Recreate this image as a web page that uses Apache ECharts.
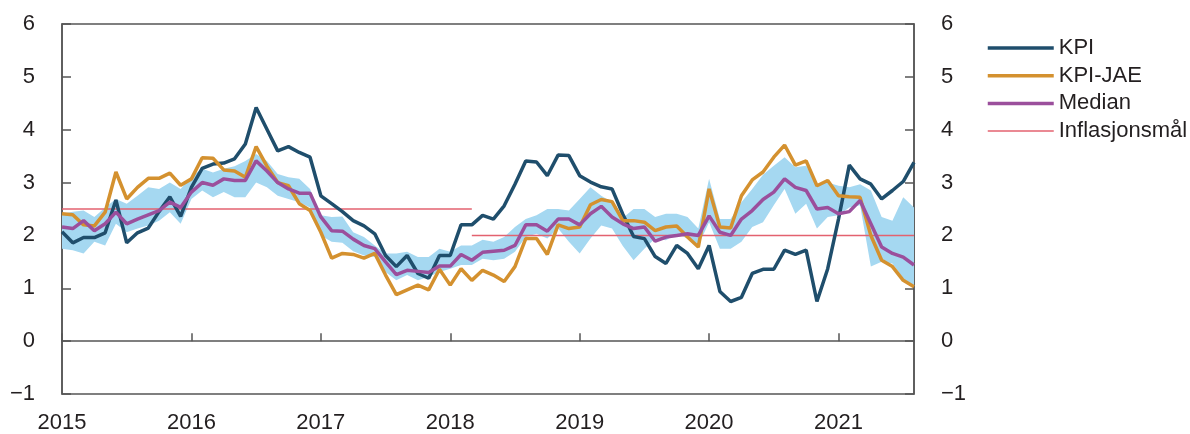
<!DOCTYPE html>
<html>
<head>
<meta charset="utf-8">
<script src="https://cdn.jsdelivr.net/npm/echarts@6/dist/echarts.min.js"></script>
<style>
  html, body { margin: 0; padding: 0; background: #fff; }
  #chart { width: 1190px; height: 434px; }
</style>
</head>
<body>
<div id="chart"></div>
<script>
// monthly, Jan 2015 - Aug 2021
const startYear = 2015
const monthCount = 80

const kpi = [
  2.07, 1.86, 1.96, 1.96, 2.05, 2.67, 1.86, 2.05, 2.14, 2.45, 2.73, 2.36,
  2.91, 3.27, 3.35, 3.37, 3.45, 3.73, 4.42, 4.01, 3.60, 3.68, 3.57, 3.48,
  2.75, 2.60, 2.45, 2.28, 2.18, 2.03, 1.62, 1.41, 1.62, 1.28, 1.19, 1.62,
  1.62, 2.20, 2.20, 2.38, 2.31, 2.56, 2.97, 3.41, 3.39, 3.13, 3.52, 3.51,
  3.13, 3.01, 2.92, 2.88, 2.40, 1.98, 1.94, 1.60, 1.47, 1.81, 1.66, 1.37,
  1.81, 0.94, 0.75, 0.83, 1.28, 1.36, 1.36, 1.72, 1.64, 1.72, 0.75, 1.37,
  2.31, 3.33, 3.07, 2.97, 2.69, 2.85, 3.02, 3.38
]

const kpiJae = [
  2.41, 2.39, 2.20, 2.18, 2.44, 3.20, 2.69, 2.91, 3.08, 3.08, 3.18, 2.95,
  3.07, 3.47, 3.46, 3.24, 3.22, 3.10, 3.68, 3.31, 3.00, 2.94, 2.60, 2.47,
  2.06, 1.57, 1.66, 1.64, 1.57, 1.66, 1.25, 0.88, 0.97, 1.06, 0.97, 1.36,
  1.06, 1.37, 1.15, 1.34, 1.25, 1.13, 1.41, 1.94, 1.94, 1.64, 2.20, 2.13,
  2.16, 2.58, 2.68, 2.64, 2.28, 2.28, 2.25, 2.09, 2.16, 2.18, 1.97, 1.78,
  2.88, 2.16, 2.14, 2.75, 3.05, 3.20, 3.48, 3.71, 3.33, 3.41, 2.94, 3.04,
  2.75, 2.73, 2.72, 2.00, 1.53, 1.41, 1.15, 1.03
]

const median = [
  2.16, 2.13, 2.28, 2.09, 2.22, 2.44, 2.22, 2.31, 2.39, 2.47, 2.63, 2.53,
  2.82, 3.00, 2.95, 3.07, 3.04, 3.04, 3.41, 3.22, 3.00, 2.88, 2.80, 2.80,
  2.35, 2.09, 2.08, 1.93, 1.81, 1.75, 1.50, 1.26, 1.34, 1.32, 1.30, 1.42,
  1.42, 1.64, 1.53, 1.68, 1.70, 1.72, 1.81, 2.20, 2.20, 2.08, 2.31, 2.31,
  2.20, 2.41, 2.55, 2.35, 2.22, 2.13, 2.16, 1.89, 1.97, 2.00, 2.03, 2.00,
  2.37, 2.06, 2.00, 2.31, 2.47, 2.68, 2.82, 3.07, 2.91, 2.85, 2.50, 2.53,
  2.41, 2.45, 2.66, 2.22, 1.78, 1.66, 1.59, 1.44
]

// range of indicators (shaded band)
const bandLow = [
  1.75, 1.72, 1.66, 1.88, 1.81, 2.22, 2.06, 2.13, 2.19, 2.28, 2.44, 2.22,
  2.69, 2.85, 2.72, 2.82, 2.72, 2.72, 3.00, 2.91, 2.75, 2.69, 2.63, 2.53,
  2.00, 1.88, 1.86, 1.70, 1.62, 1.59, 1.31, 1.15, 1.25, 1.15, 1.22, 1.31,
  1.37, 1.44, 1.44, 1.56, 1.53, 1.56, 1.69, 1.97, 2.03, 1.94, 2.13, 1.88,
  1.66, 1.94, 2.19, 2.13, 1.80, 1.53, 1.75, 1.94, 1.91, 2.03, 1.94, 1.81,
  2.25, 1.75, 1.75, 1.88, 2.16, 2.25, 2.57, 2.88, 2.41, 2.60, 2.13, 2.35,
  2.38, 2.53, 2.57, 1.41, 1.50, 1.47, 1.19, 1.03
]

const bandHigh = [
  2.41, 2.45, 2.47, 2.35, 2.53, 2.69, 2.60, 2.75, 2.91, 2.88, 3.00, 2.88,
  3.12, 3.26, 3.19, 3.26, 3.31, 3.41, 3.54, 3.41, 3.16, 3.10, 3.07, 2.88,
  2.38, 2.35, 2.36, 2.06, 1.97, 1.81, 1.66, 1.66, 1.69, 1.59, 1.59, 1.75,
  1.69, 1.81, 1.81, 1.92, 1.88, 1.97, 2.16, 2.31, 2.38, 2.50, 2.50, 2.47,
  2.69, 2.91, 2.75, 2.63, 2.33, 2.50, 2.50, 2.35, 2.41, 2.41, 2.35, 2.13,
  3.07, 2.31, 2.31, 2.63, 2.88, 3.15, 3.32, 3.48, 3.29, 3.32, 2.97, 3.00,
  2.94, 2.91, 2.97, 2.85, 2.35, 2.28, 2.72, 2.53
]

// inflation target: 2.5 until March 2018, then 2.0
const targetOld = [['2015-01', 2.5], ['2018-03', 2.5]]
const targetNew = [['2018-03', 2.0], ['2021-08', 2.0]]

const months = []
for (let i = 0; i < monthCount; i++) {
  const y = startYear + Math.floor(i / 12)
  const m = (i % 12) + 1
  months.push(y + '-' + (m < 10 ? '0' + m : m))
}

const font = 'Liberation Sans, Arial, Helvetica, sans-serif'
const textColor = '#231f20'
const axisColor = '#555555'

const colors = {
  kpi: '#1f4e6c',
  jae: '#d4912f',
  median: '#9b4f9c',
  target: '#e3626f',
  band: '#a5d8f1'
}

const yAxisBase = {
  type: 'value',
  min: -1,
  max: 6,
  interval: 1,
  axisLine: { show: true, lineStyle: { color: axisColor, width: 1.5 } },
  axisTick: { show: true, inside: true, length: 9, lineStyle: { color: axisColor, width: 1.5 } },
  axisLabel: {
    color: textColor,
    fontSize: 22,
    fontFamily: font,
    margin: 27,
    formatter: v => (v < 0 ? '\u2212' + Math.abs(v) : String(v))
  },
  splitLine: { show: false }
}

const chart = echarts.init(document.getElementById('chart'))

const legendItem = (name, color, width) => ({
  name,
  itemStyle: { opacity: 0 },
  lineStyle: { color, width }
})

const option = {
  animation: false,
  grid: {
    left: 62, right: 276, top: 24, bottom: 38,
    show: true,
    borderColor: axisColor,
    borderWidth: 1.5,
    backgroundColor: 'transparent'
  },
  legend: {
    data: [
      legendItem('KPI', colors.kpi, 3.5),
      legendItem('KPI-JAE', colors.jae, 3.5),
      legendItem('Median', colors.median, 3.5),
      legendItem('Inflasjonsmål', colors.target, 1.5)
    ],
    orient: 'vertical',
    left: 986,
    top: 37,
    padding: 0,
    itemWidth: 66,
    itemHeight: 14,
    itemGap: 5.7,
    itemStyle: { opacity: 0 },
    textStyle: { color: textColor, fontSize: 22, fontFamily: font, lineHeight: 21 }
  },
  xAxis: {
    type: 'category',
    data: months,
    boundaryGap: false,
    axisLine: { lineStyle: { color: axisColor, width: 1.5 } },
    axisTick: {
      inside: true,
      length: 8,
      interval: (i) => i % 12 === 0,
      lineStyle: { color: axisColor, width: 1.5 }
    },
    axisLabel: {
      interval: (i) => i % 12 === 0,
      color: textColor,
      fontSize: 22,
      fontFamily: font,
      margin: 18,
      formatter: v => v.slice(0, 4)
    },
    splitLine: { show: false }
  },
  yAxis: [
    Object.assign({}, yAxisBase, { position: 'left' }),
    Object.assign({}, yAxisBase, { position: 'right' })
  ],
  series: [
    {
      name: 'bandLow',
      type: 'line',
      data: bandLow,
      stack: 'band',
      symbol: 'none',
      lineStyle: { opacity: 0 },
      silent: true
    },
    {
      name: 'bandRange',
      type: 'line',
      data: bandHigh.map((v, i) => +(v - bandLow[i]).toFixed(2)),
      stack: 'band',
      symbol: 'none',
      lineStyle: { opacity: 0 },
      areaStyle: { color: colors.band, opacity: 1 },
      silent: true
    },
    {
      name: 'Inflasjonsmål',
      type: 'line',
      data: targetOld,
      symbol: 'none',
      lineStyle: { color: colors.target, width: 1.5 },
      itemStyle: { color: colors.target }
    },
    {
      name: 'Inflasjonsmål',
      type: 'line',
      data: targetNew,
      symbol: 'none',
      lineStyle: { color: colors.target, width: 1.5 },
      itemStyle: { color: colors.target }
    },
    {
      name: 'KPI',
      type: 'line',
      data: kpi,
      symbol: 'none',
      lineStyle: { color: colors.kpi, width: 3.5 },
      itemStyle: { color: colors.kpi }
    },
    {
      name: 'KPI-JAE',
      type: 'line',
      data: kpiJae,
      symbol: 'none',
      lineStyle: { color: colors.jae, width: 3.5 },
      itemStyle: { color: colors.jae }
    },
    {
      name: 'Median',
      type: 'line',
      data: median,
      symbol: 'none',
      lineStyle: { color: colors.median, width: 3.5 },
      itemStyle: { color: colors.median }
    }
  ]
}

chart.setOption(option)
</script>
</body>
</html>
